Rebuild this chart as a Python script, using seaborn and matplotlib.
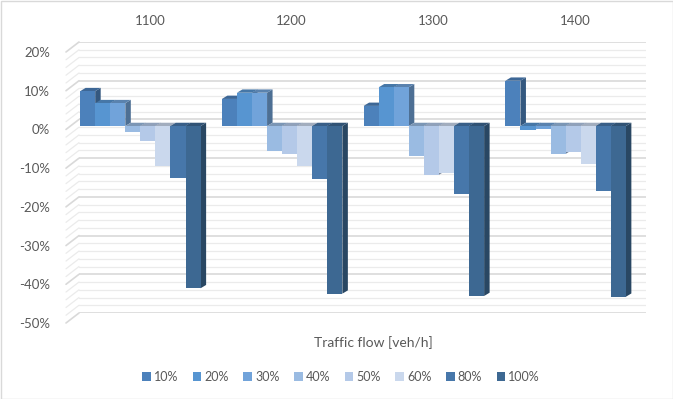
import matplotlib
matplotlib.use('Agg')
import matplotlib.pyplot as plt
import seaborn as sns
import pandas as pd
import numpy as np
from matplotlib.patches import Polygon, Patch, Rectangle
from matplotlib.colors import to_rgb

# data (percent change)
flows = ['1100', '1200', '1300', '1400']
series = ['10%', '20%', '30%', '40%', '50%', '60%', '80%', '100%']
v_1100 = [9.0, 5.9, 5.9, -1.5, -3.9, -10.4, -13.4, -41.9]
v_1200 = [7.0, 8.6, 8.6, -6.5, -7.2, -10.3, -13.8, -43.3]
v_1300 = [5.2, 10.0, 10.0, -7.7, -12.6, -12.2, -17.6, -43.9]
v_1400 = [11.7, -0.9, -0.8, -7.2, -6.6, -9.8, -16.7, -44.1]
colors = ['#4c81bb', '#5795d1', '#71a3da', '#9abbe2', '#b4c9e8', '#cad8ed', '#4777aa', '#3d6892']

rows = []
for f, vals in zip(flows, [v_1100, v_1200, v_1300, v_1400]):
    for s, v in zip(series, vals):
        rows.append({'flow': f, 'series': s, 'value': v})
df = pd.DataFrame(rows)

sns.set_style('white')
plt.rcParams['font.family'] = ['Lato', 'DejaVu Sans']
txt = '#595959'

W, H = 673, 399
fig = plt.figure(figsize=(W / 100, H / 100), dpi=100)
fig.patch.set_facecolor('white')
fig.add_artist(Rectangle((0.5 / W, 0.5 / H), 1 - 1 / W, 1 - 1 / H, transform=fig.transFigure,
                         fill=False, edgecolor='#d9d9d9', lw=1))

# back wall position in pixels
L, R, T, B = 79, 646, 42, 313


def box(dx, dy):
    return [(L + dx) / W, 1 - (B + dy) / H, (R - L) / W, (B - T) / H]


ylim = (-50, 20)
xlim = (-0.5, 3.5)

# back wall with gridlines
ax = fig.add_axes(box(0, 0))
ax.set_xlim(xlim)
ax.set_ylim(ylim)
for v in np.arange(-50, 21, 2):
    major = v % 10 == 0
    ax.axhline(v, color='#d9d9d9' if major else '#ebebeb', lw=1.2 if major else 0.9, zorder=0)
    # slanted side wall line
    y_back = B - (v - ylim[0]) / (ylim[1] - ylim[0]) * (B - T)
    fig.add_artist(plt.Line2D([L / W, (L - 13) / W], [1 - y_back / H, 1 - (y_back + 10) / H],
                              transform=fig.transFigure, color='#d9d9d9' if major else '#ebebeb',
                              lw=1.2 if major else 0.9))
ax.set_xticks(range(len(flows)))
ax.set_xticklabels(flows)
ax.xaxis.tick_top()
ax.tick_params(axis='x', length=0, pad=11, labelsize=9.5, labelcolor=txt)
ax.set_yticks([])
for sp in ax.spines.values():
    sp.set_visible(False)
ax.patch.set_alpha(0)

# front plane for value labels
axf = fig.add_axes(box(-12, 10))
axf.set_xlim(xlim)
axf.set_ylim(ylim)
axf.set_yticks(range(-50, 21, 10))
axf.set_yticklabels([f'{v}%' for v in range(-50, 21, 10)])
axf.tick_params(axis='y', length=0, pad=12, labelsize=9.5, labelcolor=txt)
axf.set_xticks([])
for sp in axf.spines.values():
    sp.set_visible(False)
axf.patch.set_alpha(0)

# bars
axb = fig.add_axes(box(-9.5, 6.6))
sns.barplot(data=df, x='flow', y='value', hue='series', palette=colors, width=0.85,
            saturation=1, legend=False, ax=axb, errorbar=None)
axb.set_xlim(xlim)
axb.set_ylim(ylim)
axb.set_axis_off()
axb.patch.set_alpha(0)

# 3D depth for each bar
px_w = (R - L)
px_h = (B - T)
ddx = 5.5 * (xlim[1] - xlim[0]) / px_w
ddy = 3.3 * (ylim[1] - ylim[0]) / px_h

n = len(flows)
for k, p in enumerate(axb.patches[:len(series) * n]):
    si = k // n
    base = np.array(to_rgb(colors[si]))
    z = 2 + 3 * si
    p.set_zorder(z + 2)
    p.set_edgecolor('none')
    x0 = p.get_x()
    x1 = x0 + p.get_width()
    y0 = min(p.get_y(), p.get_y() + p.get_height())
    y1 = max(p.get_y(), p.get_y() + p.get_height())
    side = Polygon([(x1, y0), (x1 + ddx, y0 + ddy), (x1 + ddx, y1 + ddy), (x1, y1)],
                   closed=True, facecolor=base * 0.68, edgecolor='none', zorder=z)
    top = Polygon([(x0, y1), (x0 + ddx, y1 + ddy), (x1 + ddx, y1 + ddy), (x1, y1)],
                  closed=True, facecolor=base * 0.8, edgecolor='none', zorder=z + 1)
    axb.add_patch(side)
    axb.add_patch(top)

fig.text(373 / W, 1 - 343 / H, 'Traffic flow [veh/h]', ha='center', va='center',
         fontsize=10, color=txt)

handles = [Patch(facecolor=c, edgecolor='none', label=s) for c, s in zip(colors, series)]
leg = fig.legend(handles=handles, loc='center', bbox_to_anchor=(341 / W, 1 - 377 / H), ncol=8,
                 frameon=False, fontsize=9, handlelength=0.7, handleheight=0.7,
                 handletextpad=0.25, columnspacing=1.15)
for t in leg.get_texts():
    t.set_color(txt)

fig.savefig('out.png', dpi=100)
